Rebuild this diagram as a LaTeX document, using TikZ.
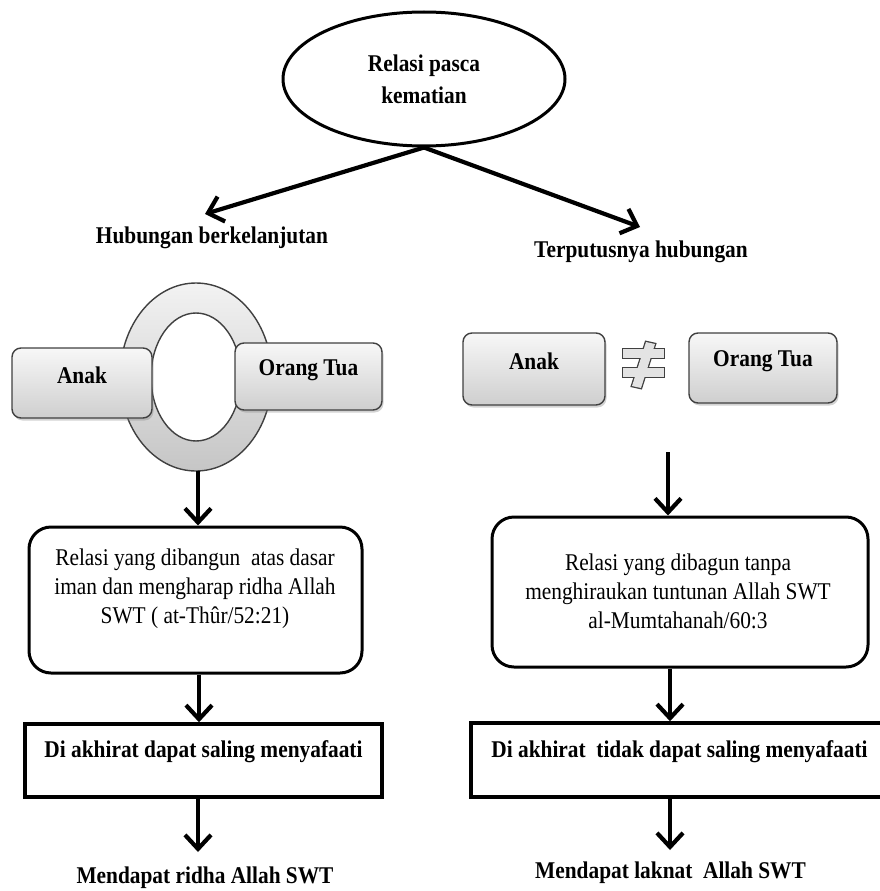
\documentclass[tikz,border=0pt]{standalone}
\usepackage{fontspec}
\setmainfont{Liberation Serif}[FakeStretch=0.89]
\usetikzlibrary{arrows.meta,shapes.geometric,shadows}
\begin{document}
\begin{tikzpicture}[x=1pt,y=-1pt,
  arr/.style={line width=4.2pt,-{Straight Barb[length=14pt,width=26pt]}},
  lbl/.style={font=\fontsize{24}{29}\selectfont\bfseries, inner sep=0pt},
  txt/.style={font=\fontsize{24}{29}\selectfont, align=center, inner sep=0pt},
  pill/.style={draw=black!75, line width=1.4pt, rounded corners=9pt, top color=gray!6, bottom color=gray!38,
    drop shadow={opacity=0.35,shadow xshift=1.5pt,shadow yshift=-2.5pt}},
  bigbox/.style={draw, line width=3pt, rounded corners=22pt},
  rectbox/.style={draw, line width=3.5pt},
  neqpart/.style={draw=black!75, line width=2.6pt},
  neqfill/.style={fill=gray!22},
]
\useasboundingbox (0,0) rectangle (880,891);
\clip (0,0) rectangle (880,891);

% top ellipse
\node[ellipse, draw, line width=3pt, minimum width=282pt, minimum height=134pt, inner sep=0pt,
      font=\fontsize{24}{29}\selectfont\bfseries, align=center] (top) at (424,79) {Relasi pasca\\[3pt]kematian};

\node[lbl] (hub) at (212,238) {Hubungan berkelanjutan};
\node[lbl] (ter) at (641,252) {Terputusnya hubungan};
\coordinate (hubtip) at (205,214);
\coordinate (tertip) at (640,227);
\draw[arr] (top.south) -- (hubtip);
\draw[arr] (top.south) -- (tertip);

% ring (left)
\path[draw=black!75, line width=1.4pt, top color=gray!10, bottom color=gray!45, even odd rule]
  (196,377) ellipse [x radius=76pt, y radius=94pt]
  (196,377) ellipse [x radius=45pt, y radius=64pt];

\node[pill, minimum width=140pt, minimum height=70pt] (anakL) at (82,383) {};
\node[lbl] (anakLt) at (82,375) {Anak};
\node[pill, minimum width=147pt, minimum height=67pt] (ortuL) at (308.5,376.5) {};
\node[lbl] (ortuLt) at (308.5,370) {Orang Tua};
\coordinate (ringb) at (198,471);
\coordinate (lx) at (199,0);

\node[bigbox, minimum width=333pt, minimum height=146pt] (box1) at (195.5,600) {};
\node[txt] (t1) at (195,589) {Relasi yang dibangun\ \ atas dasar\\iman dan mengharap ridha Allah\\SWT ( at-Thûr/52:21)};
\draw[arr] (ringb) -- (box1.north -| ringb);

\node[rectbox, minimum width=357pt, minimum height=73pt] (rect1) at (203.5,760.5) {};
\node[lbl] (r1t) at (203.5,752) {Di akhirat dapat saling menyafaati};
\draw[arr] (box1.south -| lx) -- (rect1.north -| lx);

\node[lbl] (res1) at (205,878) {Mendapat ridha Allah SWT};
\coordinate (res1tip) at (198,852);
\draw[arr] (rect1.south -| res1tip) -- (res1tip);

% right side
\node[pill, minimum width=142pt, minimum height=72pt] (anakR) at (534,369) {};
\node[lbl] (anakRt) at (534,361) {Anak};
\node[pill, minimum width=148pt, minimum height=70pt] (ortuR) at (763,368) {};
\node[lbl] (ortuRt) at (763,361) {Orang Tua};

% not-equal symbol
\path[neqpart] (623,349) rectangle (664,358);
\path[neqpart] (623,368) rectangle (664,377);
\path[neqpart] (646,342) -- (655,344) -- (641,388) -- (632,386) -- cycle;
\path[neqfill] (623,349) rectangle (664,358);
\path[neqfill] (623,368) rectangle (664,377);
\path[neqfill] (646,342) -- (655,344) -- (641,388) -- (632,386) -- cycle;

\coordinate (rtop) at (668,452);
\coordinate (rx) at (670,0);
\node[bigbox, minimum width=376pt, minimum height=150pt] (box2) at (680,592) {};
\node[txt] (t2) at (678,591) {Relasi yang dibagun tanpa\\menghiraukan tuntunan Allah SWT\\al-Mumtahanah/60:3};
\draw[arr] (rtop) -- (box2.north -| rtop);

\node[rectbox, minimum width=424pt, minimum height=74pt] (rect2) at (683,760) {};
\node[lbl] (r2t) at (679.5,752) {Di akhirat\ \ tidak dapat saling menyafaati};
\draw[arr] (box2.south -| rx) -- (rect2.north -| rx);

\node[lbl] (res2) at (670.5,873) {Mendapat laknat\ \ Allah SWT};
\coordinate (res2tip) at (670,850);
\draw[arr] (rect2.south -| res2tip) -- (res2tip);
\end{tikzpicture}
\end{document}
